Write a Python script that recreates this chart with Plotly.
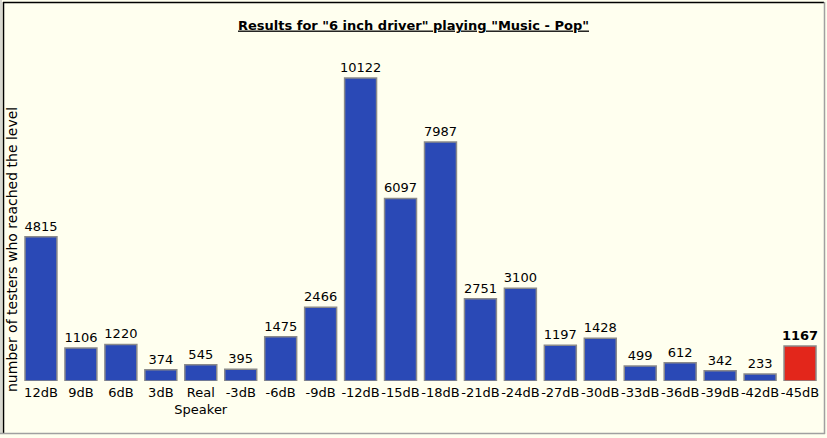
import plotly.graph_objects as go

categories = ["12dB", "9dB", "6dB", "3dB", "Real<br>Speaker", "-3dB", "-6dB", "-9dB",
              "-12dB", "-15dB", "-18dB", "-21dB", "-24dB", "-27dB", "-30dB", "-33dB",
              "-36dB", "-39dB", "-42dB", "-45dB"]
values = [4815, 1106, 1220, 374, 545, 395, 1475, 2466, 10122, 6097, 7987, 2751, 3100,
          1197, 1428, 499, 612, 342, 233, 1167]
highlight_index = 19

colors = ["#2A49B6"] * len(values)
colors[highlight_index] = "#E3261B"
texts = [str(v) for v in values]
texts[highlight_index] = "<b>%d</b>" % values[highlight_index]

FONT = "DejaVu Sans, Verdana, sans-serif"
W, H = 827, 438
ML, MR, MT, MB = 21, 7, 60, 57
PW, PH = W - ML - MR, H - MT - MB


def px(x):
    return (x - ML) / PW


def py(y):
    return (H - MB - y) / PH


def line(x0, y0, x1, y1, color, width=1):
    return dict(type="line", xref="paper", yref="paper", x0=px(x0), y0=py(y0),
                x1=px(x1), y1=py(y1), line=dict(color=color, width=width))


fig = go.Figure(go.Bar(
    x=categories, y=values, text=texts, textposition="outside", cliponaxis=False,
    constraintext="none",
    textfont=dict(family=FONT, size=13, color="#000000"),
    marker=dict(color=colors, line=dict(color="#8A8A8A", width=1.5)),
    hoverinfo="x+y",
))

fig.update_layout(
    width=W, height=H,
    margin=dict(l=ML, r=MR, t=MT, b=MB),
    paper_bgcolor="#FFFFEF", plot_bgcolor="#FFFFEF",
    bargap=0.2, showlegend=False,
    title=dict(text="<b><u>Results for \"6 inch driver\" playing \"Music - Pop\"</u></b>",
               x=0.5, xanchor="center", y=1 - 25 / H, yanchor="middle",
               font=dict(family=FONT, size=13, color="#000000")),
    xaxis=dict(type="category", tickangle=0, showgrid=False, showline=False, ticks="",
               ticklabelstandoff=2,
               tickfont=dict(family=FONT, size=13, color="#000000")),
    yaxis=dict(range=[0, 10722], showgrid=False, showticklabels=False, zeroline=False,
               showline=False, ticks=""),
    annotations=[dict(text="number of testers who reached the level", textangle=-90,
                      xref="paper", yref="paper", x=0, y=py(250), xanchor="right",
                      yanchor="middle", xshift=1, showarrow=False,
                      font=dict(family=FONT, size=14, color="#000000"))],
    shapes=[
        line(1, 0, 1, 434, "#B0B0B0"),
        line(3, 2.5, 824, 2.5, "#000000", 1.5),
        line(3.5, 2, 3.5, 433, "#000000", 1.5),
        line(824.5, 2, 824.5, 434, "#A0A0A0", 1.5),
        line(0, 433.5, 825, 433.5, "#A0A0A0", 1.5),
    ],
)

fig.write_html("out.html", config={"displayModeBar": False},
               post_script="document.body.style.margin='0';")
